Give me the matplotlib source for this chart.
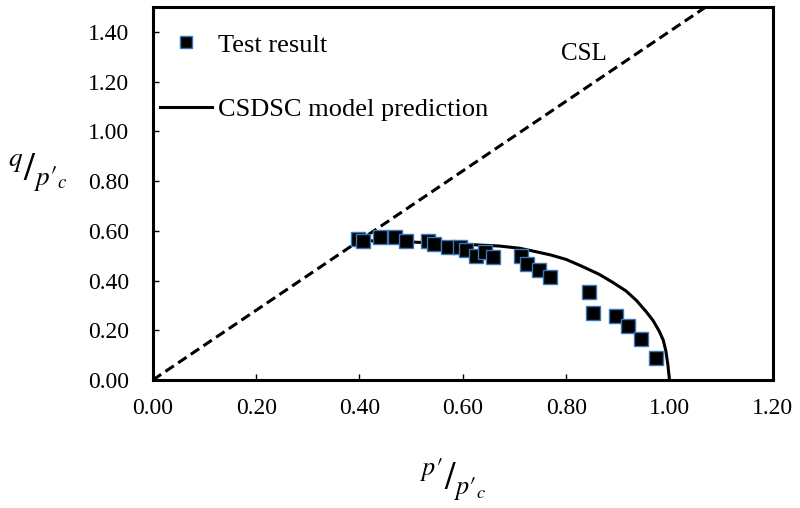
import numpy as np
import matplotlib
matplotlib.use('Agg')
import matplotlib.pyplot as plt
from matplotlib.ticker import FormatStrFormatter

# data
#
test_p = [0.398, 0.406, 0.439, 0.469, 0.490, 0.532, 0.545, 0.571, 0.595, 0.606,
          0.626, 0.642, 0.658, 0.712, 0.724, 0.748, 0.768, 0.845, 0.852, 0.897,
          0.919, 0.945, 0.974]
test_q = [0.567, 0.560, 0.577, 0.574, 0.560, 0.560, 0.547, 0.536, 0.534, 0.523,
          0.500, 0.513, 0.493, 0.500, 0.466, 0.442, 0.413, 0.352, 0.271, 0.258,
          0.218, 0.164, 0.088]

model_p = [0.42, 0.50, 0.60, 0.67, 0.71, 0.735, 0.77, 0.80, 0.83, 0.864, 0.89,
           0.916, 0.936, 0.954, 0.968, 0.980, 0.988, 0.993, 0.997, 1.00]
model_q = [0.560, 0.555, 0.546, 0.539, 0.530, 0.519, 0.503, 0.485, 0.458, 0.425,
           0.393, 0.358, 0.320, 0.277, 0.240, 0.197, 0.160, 0.117, 0.060, 0.000]

csl_p = [0.0, 1.07]
csl_q = [0.0, 1.50]

x_ticks = [0.0, 0.2, 0.4, 0.6, 0.8, 1.0, 1.2]
y_ticks = [0.0, 0.2, 0.4, 0.6, 0.8, 1.0, 1.2, 1.4]

# style
#
plt.rcParams['font.family'] = ['Liberation Serif', 'DejaVu Serif']
plt.rcParams['mathtext.fontset'] = 'stix'

fig = plt.figure(figsize=(8, 5.08), dpi=100)
ax = fig.add_axes([0.191, 0.252, 0.775, 0.734])

# plot
#
ax.plot(csl_p, csl_q, color='black', lw=2.2, linestyle=(0, (3.3, 1.7)))
ax.plot(model_p, model_q, color='black', lw=2.2, solid_joinstyle='round',
        label='CSDSC model prediction')
ax.plot(test_p, test_q, linestyle='none', marker='s', markersize=10,
        markerfacecolor='black', markeredgecolor='#3a78b8', markeredgewidth=1.0,
        label='Test result')

ax.text(0.835, 1.31, 'CSL', fontsize=18, ha='center', va='center')

# axes
#
ax.set_xlim(0, 1.2)
ax.set_ylim(0, 1.5)
ax.set_xticks(x_ticks)
ax.set_yticks(y_ticks)
ax.xaxis.set_major_formatter(FormatStrFormatter('%.2f'))
ax.yaxis.set_major_formatter(FormatStrFormatter('%.2f'))
ax.tick_params(direction='in', length=4, width=1, labelsize=17)
ax.tick_params(axis='x', pad=13)
ax.tick_params(axis='y', pad=17)
for s in ax.spines.values():
    s.set_linewidth(2.2)

ax.set_xlabel(r"$^{p\prime}/_{p\prime_{c}}$", fontsize=27, ha='center', va='center')
ax.xaxis.set_label_coords(0.484, -0.268)
ax.set_ylabel(r"$^{q}/_{p\prime_{c}}$", fontsize=28, rotation=0, ha='center', va='center')
ax.yaxis.set_label_coords(-0.185, 0.557)

# legend
#
h, l = ax.get_legend_handles_labels()
ax.legend([h[1], h[0]], [l[1], l[0]], loc='upper left', bbox_to_anchor=(0.011, 0.93),
          frameon=False, fontsize=19, borderpad=0, borderaxespad=0, markerscale=0.8,
          handlelength=2.0, handletextpad=0.2, labelspacing=1.55)

# output
#
plt.savefig('out.png', dpi=100)
